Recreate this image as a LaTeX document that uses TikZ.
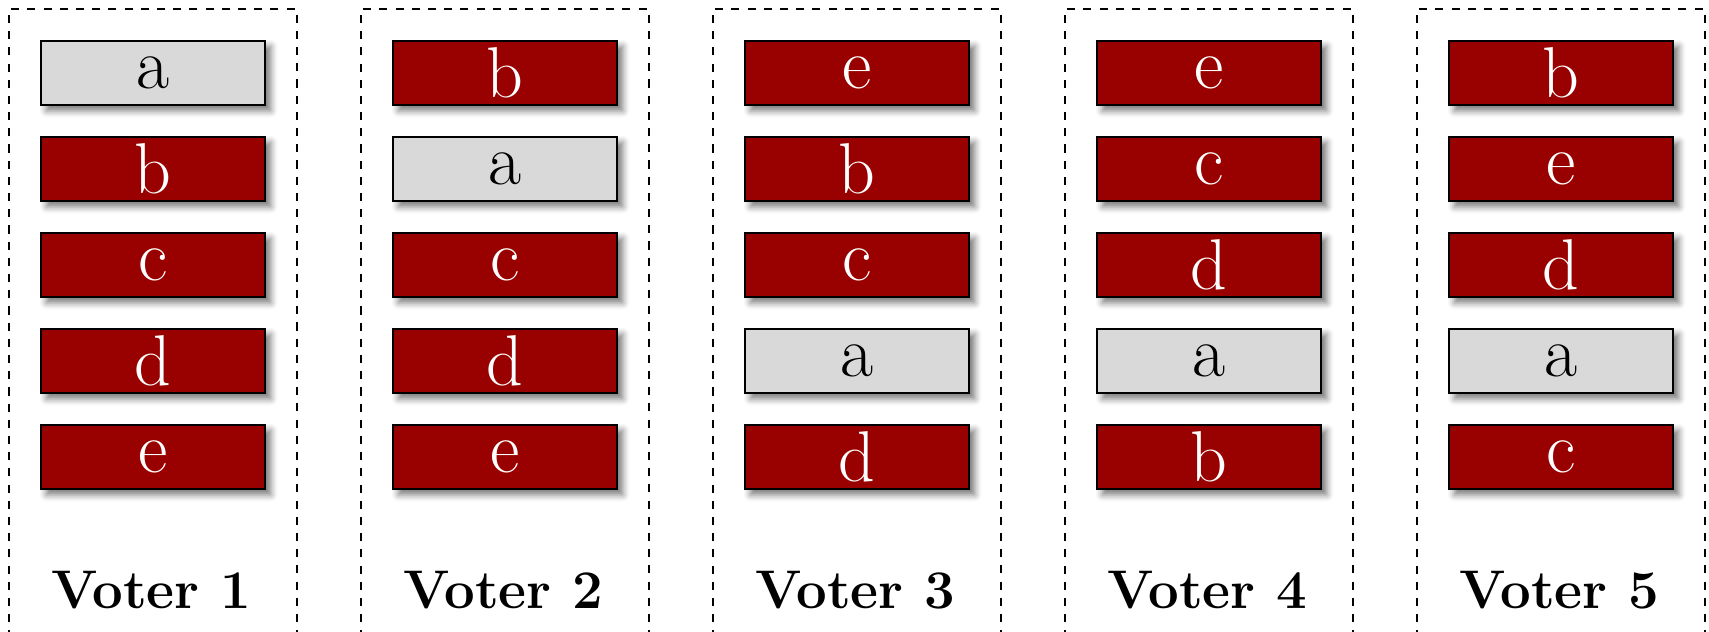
\documentclass[tikz,border=0pt]{standalone}
\usetikzlibrary{shadows.blur}
\definecolor{candred}{RGB}{153,0,0}
\definecolor{candgrey}{RGB}{217,217,217}
\def\candA{a}
\begin{document}
\begin{tikzpicture}[x=1cm,y=1cm,
  cand/.style={draw=black, line width=1.1pt, minimum width=3.5cm, minimum height=1cm, inner sep=0pt,
    font=\fontsize{32}{38}\selectfont, blur shadow={shadow xshift=2.5pt, shadow yshift=-2.5pt, shadow blur radius=3pt, shadow opacity=55}},
  red/.style={cand, fill=candred, text=white},
  grey/.style={cand, fill=candgrey, text=black},
  frame/.style={draw=black, line width=1pt, dash pattern=on 3.6pt off 3.6pt},
  voter/.style={font=\fontsize{24.2}{29}\selectfont\bfseries, anchor=base}]
\useasboundingbox (0,0) rectangle (1709/64,-631/64);
\clip (0,0) rectangle (1709/64,-631/64);
\foreach \col/\list [count=\i from 0] in {1/{a,b,c,d,e},2/{b,a,c,d,e},3/{e,b,c,a,d},4/{e,c,d,a,b},5/{b,e,d,a,c}}{
  \draw[frame] ({(9+352*\i)/64},-12) -- ({(9+352*\i)/64},{-9/64}) -- ({(297+352*\i)/64},{-9/64}) -- ({(297+352*\i)/64},-12);
  \foreach \c [count=\j from 0] in \list {
    \ifx\c\candA
      \node[grey] (v\col-\j) at ({(153+352*\i)/64},{-(73+96*\j)/64}) {\c};
    \else
      \node[red] (v\col-\j) at ({(153+352*\i)/64},{-(73+96*\j)/64}) {\c};
    \fi
  }
  \node[voter] (lab\col) at ({(151+352*\i)/64},{-608/64}) {Voter \col};
}
\end{tikzpicture}
\end{document}
